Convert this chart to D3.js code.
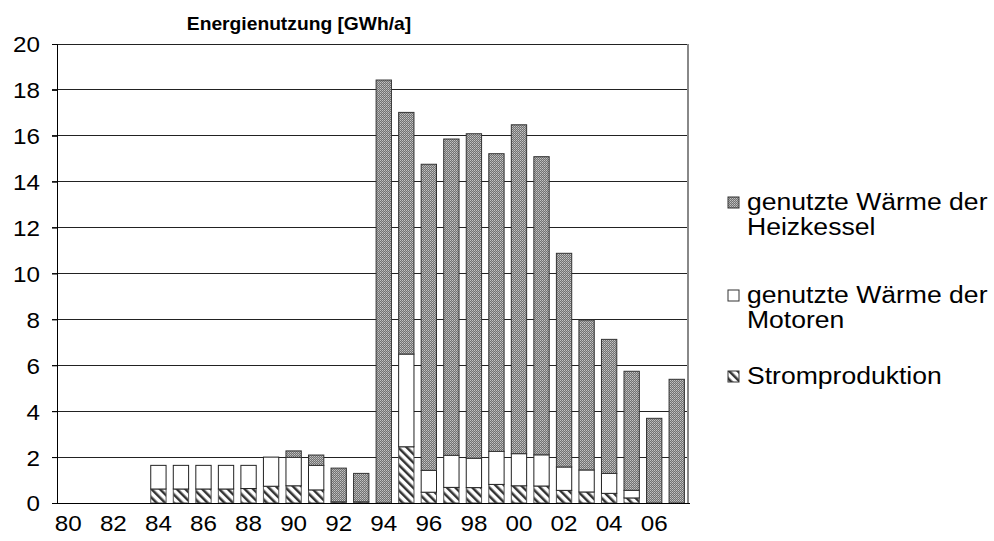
<!DOCTYPE html>
<html>
<head>
<meta charset="utf-8">
<script src="https://cdn.jsdelivr.net/npm/d3@7"></script>
<style>
  html, body { margin: 0; padding: 0; background: #fff; }
  svg { display: block; font-family: "Liberation Sans", Arial, sans-serif; }
</style>
</head>
<body>
<svg id="chart" width="994" height="541"></svg>
<script>
// ---- data ----
const years = [1980,1981,1982,1983,1984,1985,1986,1987,1988,1989,1990,1991,1992,1993,
               1994,1995,1996,1997,1998,1999,2000,2001,2002,2003,2004,2005,2006,2007];
const strom = [0,0,0,0,0.61,0.61,0.61,0.61,0.63,0.73,0.75,0.57,0.05,0.05,
               0,2.45,0.47,0.68,0.67,0.81,0.75,0.74,0.55,0.48,0.42,0.22,0,0];
const motoren = [0,0,0,0,1.03,1.03,1.03,1.03,1.01,1.27,1.24,1.07,0,0,
                 0,4.04,0.95,1.40,1.28,1.44,1.40,1.36,1.02,0.96,0.87,0.33,0,0];
const heizkessel = [0,0,0,0,0,0,0,0,0,0,0.28,0.45,1.47,1.24,
                    18.43,10.53,13.34,13.78,14.14,12.97,14.33,12.99,9.31,6.53,5.84,5.19,3.69,5.39];
const yTicks = [0,2,4,6,8,10,12,14,16,18,20];
const xTickYears = [1980,1982,1984,1986,1988,1990,1992,1994,1996,1998,2000,2002,2004,2006];
const xTickLabels = ["80","82","84","86","88","90","92","94","96","98","00","02","04","06"];
const seriesKeys = ["strom","motoren","heizkessel"];
const legendLabels = {
  heizkessel: ["genutzte Wärme der","Heizkessel"],
  motoren: ["genutzte Wärme der","Motoren"],
  strom: ["Stromproduktion"]
};
const title = "Energienutzung [GWh/a]";

// ---- layout ----
const svg = d3.select("#chart");
const L = 57, R = 688, T = 44, B = 503;
const SX = 1.1; // horizontal text stretch

const x = d3.scaleBand().domain(years).range([L, R]).paddingInner(0.32).paddingOuter(0.16);
const y = d3.scaleLinear().domain([0, 20]).range([B, T]);

// ---- patterns ----
const defs = svg.append("defs");
const pH = defs.append("pattern").attr("id","patHeiz").attr("patternUnits","userSpaceOnUse")
  .attr("width",2).attr("height",2);
pH.append("rect").attr("width",2).attr("height",2).attr("fill","#727272");
pH.append("rect").attr("x",0).attr("y",0).attr("width",1).attr("height",1).attr("fill","#c4c4c4");
pH.append("rect").attr("x",1).attr("y",1).attr("width",1).attr("height",1).attr("fill","#a8a8a8");

const pS = defs.append("pattern").attr("id","patStrom").attr("patternUnits","userSpaceOnUse")
  .attr("width",6).attr("height",6).attr("patternTransform","rotate(-45)");
pS.append("rect").attr("width",6).attr("height",6).attr("fill","#fff");
pS.append("rect").attr("x",0).attr("y",0).attr("width",2.5).attr("height",6).attr("fill","#333");

const fills = { heizkessel: "url(#patHeiz)", motoren: "#ffffff", strom: "url(#patStrom)" };
const strokes = { heizkessel: "#333", motoren: "#222", strom: "#555" };

// ---- gridlines ----
svg.append("g").selectAll("line").data(yTicks.filter(d => d > 0)).join("line")
  .attr("x1", L - 5).attr("x2", R).attr("y1", d => y(d)).attr("y2", d => y(d))
  .attr("stroke", "#222").attr("stroke-width", 1).attr("shape-rendering","crispEdges");

// right border
svg.append("line").attr("x1", R).attr("x2", R).attr("y1", T).attr("y2", B)
  .attr("stroke", "#888").attr("stroke-width", 1.5).attr("shape-rendering","crispEdges");

// ---- bars ----
const table = years.map((yr, i) => ({ year: yr, strom: strom[i], motoren: motoren[i], heizkessel: heizkessel[i] }));
const stack = d3.stack().keys(seriesKeys)(table);
const gBars = svg.append("g");
stack.forEach(layer => {
  gBars.append("g").selectAll("rect")
    .data(layer.filter(d => d[1] - d[0] > 0))
    .join("rect")
    .attr("x", d => x(d.data.year))
    .attr("width", x.bandwidth())
    .attr("y", d => y(d[1]))
    .attr("height", d => y(d[0]) - y(d[1]))
    .attr("fill", fills[layer.key])
    .attr("stroke", strokes[layer.key])
    .attr("stroke-width", 1);
});

// ---- axes ----
const yAxis = svg.append("g").attr("transform", `translate(${L},0)`)
  .call(d3.axisLeft(y).tickValues(yTicks).tickSize(5).tickFormat(d3.format("d")));
yAxis.select(".domain").attr("stroke", "#000");
yAxis.selectAll(".tick line").attr("stroke", "#000");
yAxis.selectAll("text")
  .attr("x", -17 / SX).attr("dy", "0.36em")
  .attr("transform", `scale(${SX},1)`)
  .attr("font-size", 22).attr("fill", "#000")
  .attr("font-family", "Liberation Sans, Arial, sans-serif");

const xAxis = svg.append("g").attr("transform", `translate(0,${B})`)
  .call(d3.axisBottom(x).tickValues(xTickYears).tickSize(0)
        .tickFormat(d => xTickLabels[xTickYears.indexOf(d)]));
xAxis.select(".domain").attr("stroke", "#000").attr("d", `M${L},0.5H${R + 2}`);
xAxis.selectAll("text")
  .attr("y", 28).attr("dy", 0).attr("x", 0)
  .attr("transform", `scale(${SX},1)`)
  .attr("font-size", 22).attr("fill", "#000")
  .attr("font-family", "Liberation Sans, Arial, sans-serif");

// ---- title ----
svg.append("text")
  .attr("transform", `translate(299,30) scale(${SX},1)`)
  .attr("text-anchor", "middle")
  .attr("font-size", 17.5).attr("font-weight", "bold")
  .text(title);

// ---- legend ----
const legendItems = [
  { key: "heizkessel", base: 210 },
  { key: "motoren", base: 303 },
  { key: "strom", base: 384 }
];
const LX = 728, TX = 747, LSX = 1.13;
const gLeg = svg.append("g");
legendItems.forEach(item => {
  gLeg.append("rect")
    .attr("x", LX).attr("y", item.base - 13).attr("width", 11).attr("height", 11)
    .attr("fill", fills[item.key]).attr("stroke", "#333").attr("stroke-width", 1);
  legendLabels[item.key].forEach((line, j) => {
    gLeg.append("text")
      .attr("transform", `translate(${TX},${item.base + j * 25}) scale(${LSX},1)`)
      .attr("font-size", 23.5).attr("fill", "#000")
      .text(line);
  });
});
</script>
</body>
</html>
